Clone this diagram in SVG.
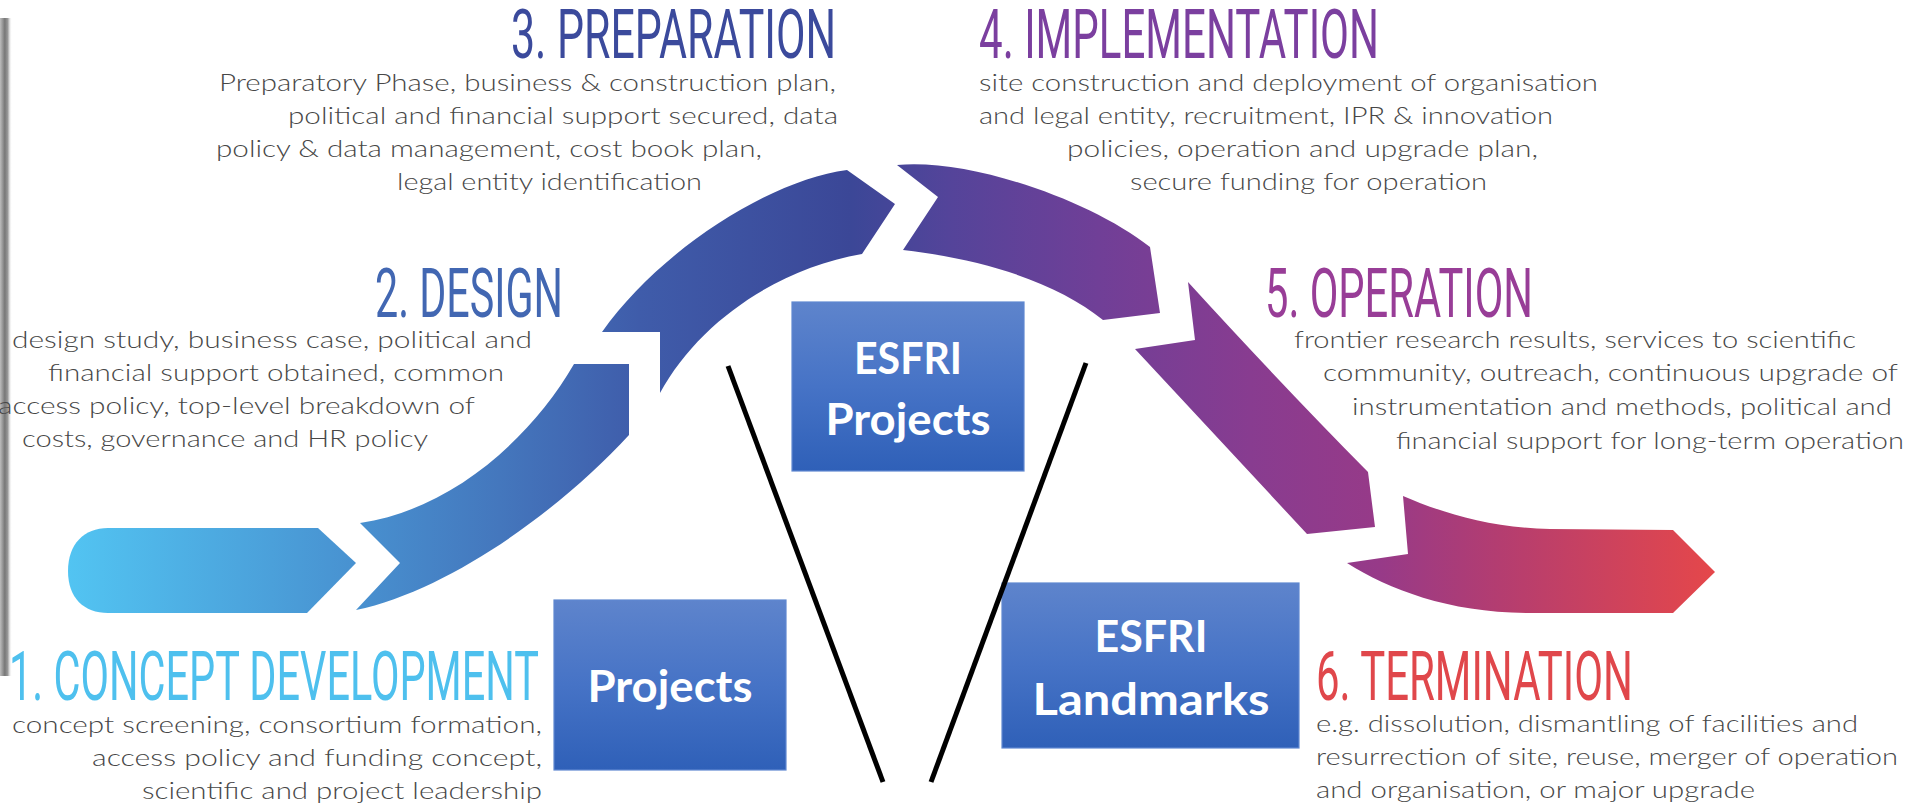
<svg xmlns="http://www.w3.org/2000/svg" width="1911" height="810" viewBox="0 0 1911 810">
  <style>
    .ttl { font-family: Roboto, "DejaVu Sans", sans-serif; font-weight: 400; font-size: 68px; }
    .body { font-family: Lato, "Open Sans", "Liberation Sans", sans-serif; font-weight: 300; font-size: 24px; fill: #474747; }
    .box { fill: url(#boxGrad); stroke: #5f88d0; stroke-width: 1.2; }
    .boxtxt { font-family: Lato, "Open Sans", "Liberation Sans", sans-serif; font-weight: 700; font-size: 44px; fill: #ffffff; text-anchor: middle; }
    .seg { fill: url(#arcGrad); }
    .conn { stroke: #000000; stroke-width: 5; stroke-linecap: butt; fill: none; }
  </style>
  <defs>
    <linearGradient id="arcGrad" gradientUnits="userSpaceOnUse" x1="68" y1="0" x2="1715" y2="0">
      <stop offset="0" stop-color="#52c4f2"/>
      <stop offset="0.175" stop-color="#4891d0"/>
      <stop offset="0.262" stop-color="#4477bd"/>
      <stop offset="0.347" stop-color="#3f5caa"/>
      <stop offset="0.475" stop-color="#3b4797"/>
      <stop offset="0.535" stop-color="#54449a"/>
      <stop offset="0.626" stop-color="#703f97"/>
      <stop offset="0.718" stop-color="#883c90"/>
      <stop offset="0.797" stop-color="#973a88"/>
      <stop offset="0.87" stop-color="#b43d70"/>
      <stop offset="1" stop-color="#e5474a"/>
    </linearGradient>
    <linearGradient id="boxGrad" x1="0" y1="0" x2="0" y2="1">
      <stop offset="0" stop-color="#5e84cc"/>
      <stop offset="0.5" stop-color="#4673c6"/>
      <stop offset="1" stop-color="#2f60b8"/>
    </linearGradient>
    <linearGradient id="barGrad" x1="0" y1="0" x2="1" y2="0">
      <stop offset="0" stop-color="#bdbdbd"/>
      <stop offset="0.4" stop-color="#777777"/>
      <stop offset="0.65" stop-color="#9a9a9a"/>
      <stop offset="1" stop-color="#ffffff" stop-opacity="0"/>
    </linearGradient>
  </defs>

  <rect width="1911" height="810" fill="#ffffff"/>
  <rect x="0" y="18" width="12" height="658" fill="url(#barGrad)"/>

  <!-- arrow segments -->
  <g id="seg1"><path class="seg" d="M108,528 L318,528 L356,563 L307,613 L108,613 C84,613 68,598 68,571 C68,544 84,528 108,528 Z"/></g>
  <g id="seg2"><path class="seg" d="M360,523 L400,563 L356,610 C450,590 560,510 629,435 L629,364 L574,364 C530,440 450,510 360,523 Z"/></g>
  <g id="seg3"><path class="seg" d="M602,332 L660,332 L660,393 C700,320 780,268 862,254 L895,204 L847,170 C770,180 660,250 602,332 Z"/></g>
  <g id="seg4"><path class="seg" d="M897,165 L938,197 L903,250 C990,260 1060,285 1103,320 L1160,313 L1150,247 C1090,200 970,158 897,165 Z"/></g>
  <g id="seg5"><path class="seg" d="M1188,282 L1195,340 L1135,349 L1307,534 L1375,527 L1368,472 Q1282,385 1188,282 Z"/></g>
  <g id="seg6"><path class="seg" d="M1403,496 L1408,554 L1347,563 C1390,590 1450,613 1530,613 L1673,613 L1715,572 L1673,530 L1550,529 C1490,528 1440,512 1403,496 Z"/></g>

  <!-- phase texts -->
  <g id="phase1">
    <text class="ttl" x="9" y="700" font-size="71" fill="#4ec0ee" textLength="530" lengthAdjust="spacingAndGlyphs">1. CONCEPT DEVELOPMENT</text>
    <text class="body" x="12" y="733" textLength="530" lengthAdjust="spacingAndGlyphs">concept screening, consortium formation,</text>
    <text class="body" x="92" y="766" textLength="450" lengthAdjust="spacingAndGlyphs">access policy and funding concept,</text>
    <text class="body" x="142" y="799" textLength="400" lengthAdjust="spacingAndGlyphs">scientific and project leadership</text>
  </g>
  <g id="phase2">
    <text class="ttl" x="375" y="317" fill="#4267b2" textLength="188" lengthAdjust="spacingAndGlyphs">2. DESIGN</text>
    <text class="body" x="12" y="348" textLength="520" lengthAdjust="spacingAndGlyphs">design study, business case, political and</text>
    <text class="body" x="48" y="381" textLength="456" lengthAdjust="spacingAndGlyphs">financial support obtained, common</text>
    <text class="body" x="-2" y="414" textLength="477" lengthAdjust="spacingAndGlyphs">access policy, top-level breakdown of</text>
    <text class="body" x="22" y="447" textLength="406" lengthAdjust="spacingAndGlyphs">costs, governance and HR policy</text>
  </g>
  <g id="phase3">
    <text class="ttl" x="511" y="58" fill="#3b4a9c" textLength="325" lengthAdjust="spacingAndGlyphs">3. PREPARATION</text>
    <text class="body" x="219" y="91" textLength="617" lengthAdjust="spacingAndGlyphs">Preparatory Phase, business &amp; construction plan,</text>
    <text class="body" x="288" y="124" textLength="550" lengthAdjust="spacingAndGlyphs">political and financial support secured, data</text>
    <text class="body" x="216" y="157" textLength="546" lengthAdjust="spacingAndGlyphs">policy &amp; data management, cost book plan,</text>
    <text class="body" x="397" y="190" textLength="305" lengthAdjust="spacingAndGlyphs">legal entity identification</text>
  </g>
  <g id="phase4">
    <text class="ttl" x="979" y="58" fill="#7b3f9f" textLength="400" lengthAdjust="spacingAndGlyphs">4. IMPLEMENTATION</text>
    <text class="body" x="979" y="91" textLength="619" lengthAdjust="spacingAndGlyphs">site construction and deployment of organisation</text>
    <text class="body" x="979" y="124" textLength="574" lengthAdjust="spacingAndGlyphs">and legal entity, recruitment, IPR &amp; innovation</text>
    <text class="body" x="1067" y="157" textLength="471" lengthAdjust="spacingAndGlyphs">policies, operation and upgrade plan,</text>
    <text class="body" x="1130" y="190" textLength="357" lengthAdjust="spacingAndGlyphs">secure funding for operation</text>
  </g>
  <g id="phase5">
    <text class="ttl" x="1265" y="317" fill="#983d97" textLength="268" lengthAdjust="spacingAndGlyphs">5. OPERATION</text>
    <text class="body" x="1294" y="348" textLength="562" lengthAdjust="spacingAndGlyphs">frontier research results, services to scientific</text>
    <text class="body" x="1323" y="381" textLength="575" lengthAdjust="spacingAndGlyphs">community, outreach, continuous upgrade of</text>
    <text class="body" x="1352" y="415" textLength="540" lengthAdjust="spacingAndGlyphs">instrumentation and methods, political and</text>
    <text class="body" x="1396" y="449" textLength="508" lengthAdjust="spacingAndGlyphs">financial support for long-term operation</text>
  </g>
  <g id="phase6">
    <text class="ttl" x="1316" y="700" font-size="71" fill="#e0474b" textLength="317" lengthAdjust="spacingAndGlyphs">6. TERMINATION</text>
    <text class="body" x="1316" y="732" textLength="542" lengthAdjust="spacingAndGlyphs">e.g. dissolution, dismantling of facilities and</text>
    <text class="body" x="1316" y="765" textLength="582" lengthAdjust="spacingAndGlyphs">resurrection of site, reuse, merger of operation</text>
    <text class="body" x="1316" y="798" textLength="439" lengthAdjust="spacingAndGlyphs">and organisation, or major upgrade</text>
  </g>

  <!-- category boxes -->
  <g id="box-esfri-projects">
    <rect class="box" x="792" y="302" width="232" height="169"/>
    <text class="boxtxt" x="908" y="374" textLength="108" lengthAdjust="spacingAndGlyphs">ESFRI</text>
    <text class="boxtxt" x="908" y="435" textLength="165" lengthAdjust="spacingAndGlyphs">Projects</text>
  </g>
  <g id="box-projects">
    <rect class="box" x="554" y="600" width="232" height="170"/>
    <text class="boxtxt" x="670" y="702" textLength="165" lengthAdjust="spacingAndGlyphs">Projects</text>
  </g>
  <g id="box-esfri-landmarks">
    <rect class="box" x="1002" y="583" width="297" height="165"/>
    <text class="boxtxt" x="1151" y="652" textLength="113" lengthAdjust="spacingAndGlyphs">ESFRI</text>
    <text class="boxtxt" x="1151" y="715" textLength="237" lengthAdjust="spacingAndGlyphs">Landmarks</text>
  </g>

  <!-- connectors -->
  <g id="connectors">
    <line class="conn" x1="728" y1="366" x2="883" y2="782"/>
    <line class="conn" x1="1086" y1="363" x2="931" y2="782"/>
  </g>
</svg>
